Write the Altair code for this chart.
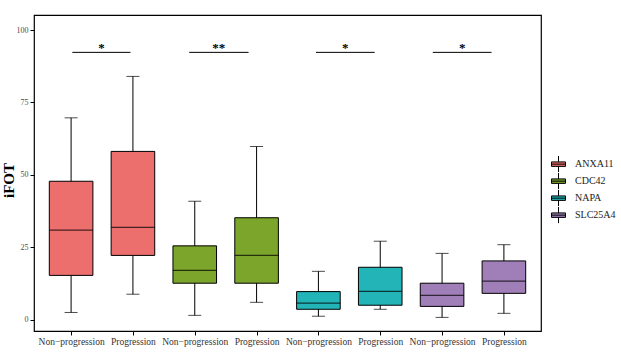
import altair as alt
import pandas as pd

genes = ["ANXA11", "CDC42", "NAPA", "SLC25A4"]
groups = ["Non\u2212progression", "Progression"]
colors = ["#EC6F6E", "#7CA62B", "#23B4B8", "#A07FB8"]

lower = [2.5, 8.8, 1.5, 6.0, 1.2, 3.6, 0.8, 2.2]
q1 = [15.3, 22.2, 12.6, 12.6, 3.6, 5.0, 4.6, 9.1]
median = [30.9, 31.9, 17.0, 22.2, 5.7, 9.8, 8.4, 13.3]
q3 = [47.8, 58.1, 25.5, 35.2, 9.7, 18.1, 12.6, 20.3]
upper = [69.7, 84.0, 40.9, 59.8, 16.7, 27.1, 22.9, 25.9]

signif = ["*", "**", "*", "*"]
bracket_start = [1.02, 2.91, 4.96, 6.85]
bracket_end = [1.96, 3.87, 5.91, 7.80]
bracket_y = [92.3, 92.3, 92.3, 92.3]

y_ticks = [0, 25, 50, 75, 100]

rows = []
for i in range(8):
    rows.append({
        "pos": i + 1,
        "gene": genes[i // 2],
        "group": groups[i % 2],
        "lower": lower[i], "q1": q1[i], "median": median[i],
        "q3": q3[i], "upper": upper[i],
    })
df = pd.DataFrame(rows)

sig_df = pd.DataFrame({
    "x": bracket_start, "x2": bracket_end, "y": bracket_y, "label": signif,
})
sig_df["xm"] = (sig_df["x"] + sig_df["x2"]) / 2

xlabels = [groups[i % 2] for i in range(8)]
label_expr = "[" + ",".join("'" + s + "'" for s in xlabels) + "][datum.value - 1]"

FONT = "Liberation Serif"

xscale = alt.Scale(domain=[0.4, 8.6], nice=False, zero=False, padding=0)
yscale = alt.Scale(domain=[-3.9, 105.2], nice=False, zero=False, padding=0)

xenc = alt.X("pos:Q", scale=xscale,
             axis=alt.Axis(values=list(range(1, 9)), labelExpr=label_expr,
                           title=None, grid=False, domain=False,
                           tickColor="black", tickSize=4, tickWidth=1,
                           labelFont=FONT, labelFontSize=9.5, labelColor="#333333",
                           labelPadding=1, labelFlush=False, labelOverlap=False))

base = alt.Chart(df)

whisker = base.mark_rule(color="black", strokeWidth=1).encode(
    x=xenc,
    y=alt.Y("lower:Q", scale=yscale,
            axis=alt.Axis(values=y_ticks, title="iFOT", grid=False, domain=False,
                          tickColor="black", tickSize=4, tickWidth=1,
                          labelFont=FONT, labelFontSize=8, labelColor="#4D4D4D",
                          labelPadding=2,
                          titleFont=FONT, titleFontSize=15, titleFontWeight="bold",
                          titleColor="black", titleX=-26, titleY=165,
                          titleBaseline="middle", titleAngle=-90)),
    y2="upper:Q",
)

cap_hi = base.mark_tick(orient="horizontal", color="black", size=13, thickness=1).encode(
    x="pos:Q", y="upper:Q")
cap_lo = base.mark_tick(orient="horizontal", color="black", size=13, thickness=1).encode(
    x="pos:Q", y="lower:Q")

legend_path = "M-1,-0.32H1V0.32H-1Z M-1,0H1 M0,-0.32V-1.17 M0,0.32V1.17"

box = base.mark_bar(size=43.6, stroke="black", strokeWidth=1).encode(
    x="pos:Q", y="q1:Q", y2="q3:Q",
    color=alt.Color("gene:N", scale=alt.Scale(domain=genes, range=colors),
                    legend=alt.Legend(title=None, orient="none", legendX=517, legendY=141,
                                      symbolType=legend_path, symbolSize=196,
                                      symbolStrokeColor="black", symbolStrokeWidth=1,
                                      symbolOpacity=1,
                                      labelFont=FONT, labelFontSize=10, labelColor="#222222",
                                      labelOffset=9, rowPadding=0, clipHeight=16.3)),
)

med = base.mark_tick(orient="horizontal", color="black", size=43.6, thickness=1.3).encode(
    x="pos:Q", y="median:Q")

sig_base = alt.Chart(sig_df)
brackets = sig_base.mark_rule(color="black", strokeWidth=1).encode(
    x="x:Q", x2="x2:Q", y="y:Q")
stars = sig_base.mark_text(font=FONT, fontSize=13, color="black", fontWeight="bold",
                           baseline="alphabetic", align="center", dy=0).encode(
    x="xm:Q", y="y:Q", text="label:N")

chart = alt.layer(whisker, cap_hi, cap_lo, box, med, brackets, stars).properties(
    width=507, height=316,
    background="white",
    autosize=alt.AutoSizeParams(type="none"),
    padding={"left": 34, "top": 15, "right": 80, "bottom": 22},
).configure_view(stroke="black", strokeWidth=1.2)

chart.save("out.html", embed_options={"renderer": "svg", "actions": False})
